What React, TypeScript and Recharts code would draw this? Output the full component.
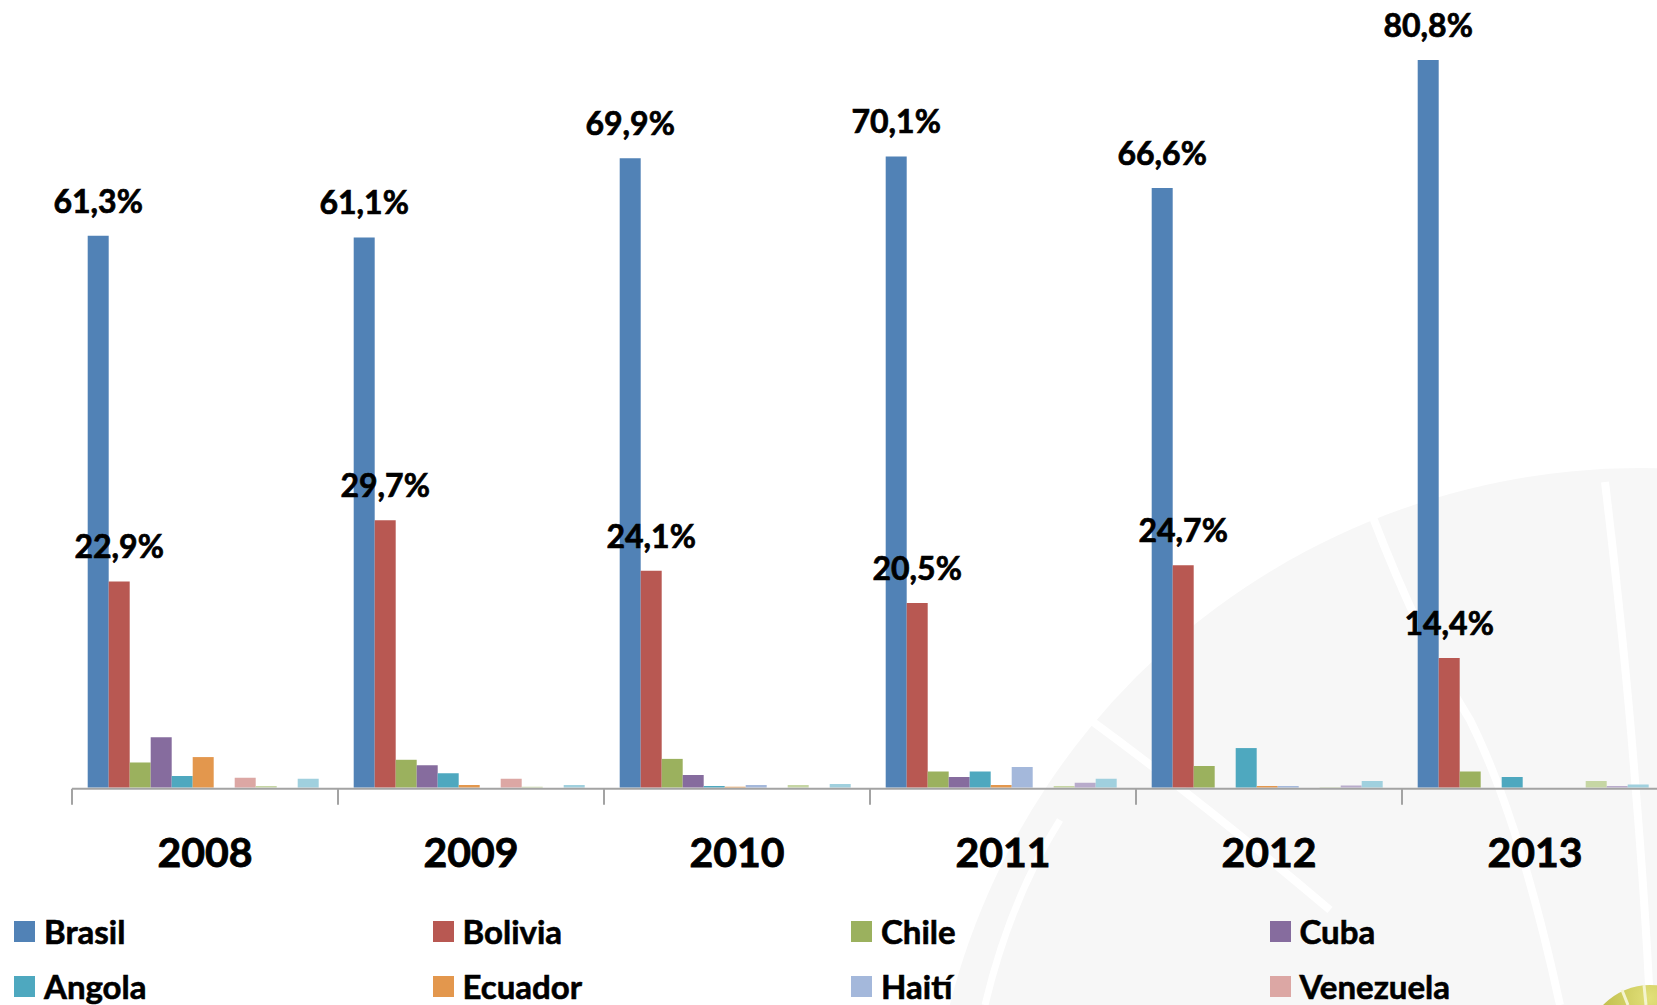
import { Bar, BarChart, LabelList, Legend, XAxis, YAxis } from "recharts";

const years = ["2008", "2009", "2010", "2011", "2012", "2013"];

const brasil = [61.3, 61.1, 69.9, 70.1, 66.6, 80.8];
const bolivia = [22.9, 29.7, 24.1, 20.5, 24.7, 14.4];
const chile = [2.8, 3.1, 3.2, 1.8, 2.4, 1.8];
const cuba = [5.6, 2.5, 1.4, 1.2, 0, 0];
const angola = [1.3, 1.6, 0.2, 1.8, 4.4, 1.2];
const ecuador = [3.4, 0.3, 0.1, 0.3, 0.2, 0];
const haiti = [0, 0, 0.3, 2.3, 0.2, 0];
const venezuela = [1.1, 1.0, 0, 0, 0, 0];
const paraguay = [0.2, 0.1, 0.3, 0.2, 0.05, 0.75];
const peru = [0, 0, 0, 0.55, 0.25, 0.2];
const otros = [1.0, 0.3, 0.4, 1.0, 0.75, 0.35];

const series = [
  { key: "brasil", name: "Brasil", color: "#5182B6", values: brasil, labels: true },
  { key: "bolivia", name: "Bolivia", color: "#B85852", values: bolivia, labels: true },
  { key: "chile", name: "Chile", color: "#9BB15E", values: chile },
  { key: "cuba", name: "Cuba", color: "#866C9E", values: cuba },
  { key: "angola", name: "Angola", color: "#4EA8BF", values: angola },
  { key: "ecuador", name: "Ecuador", color: "#E3974D", values: ecuador },
  { key: "haiti", name: "Haití", color: "#A4B8DB", values: haiti },
  { key: "venezuela", name: "Venezuela", color: "#DCA7A4", values: venezuela },
  { key: "paraguay", name: "Paraguay", color: "#C6D6A4", values: paraguay },
  { key: "peru", name: "Perú", color: "#B8ABCB", values: peru },
  { key: "otros", name: "Otros", color: "#A0D0DE", values: otros },
];

const data = years.map((year, i) => {
  const row: Record<string, string | number> = { year };
  series.forEach((s) => (row[s.key] = s.values[i]));
  return row;
});

const FONT = "Lato, 'Open Sans', sans-serif";
// half of one category band (plot width 1596 / 6 / 2): shifts the tick axis onto band edges
const HALF_BAND = 133;

function pct(v: unknown) {
  return `${Number(v).toFixed(1).replace(".", ",")}%`;
}

function YearTick(props: any) {
  const { x, y, payload } = props;
  return (
    <text
      x={x}
      y={y + 79}
      textAnchor="middle"
      fill="#000"
      stroke="#000"
      strokeWidth={0.8}
      fontFamily={FONT}
      fontWeight={700}
      fontSize={41}
    >
      {payload.value}
    </text>
  );
}

function NoLabel() {
  return <g />;
}

function LegendGrid(props: any) {
  const order = series.map((s) => s.name);
  const items = [...(props.payload || [])].sort(
    (a: any, b: any) => order.indexOf(a.value) - order.indexOf(b.value)
  );
  return (
    <div style={{ display: "grid", gridTemplateColumns: "repeat(4, 418.5px)", gridAutoRows: "55px" }}>
      {items.map((it: any) => (
        <div key={it.value} style={{ display: "flex", alignItems: "center" }}>
          <span style={{ width: 21, height: 21, background: it.color, marginRight: 9, flex: "none" }} />
          <span
            style={{
              fontFamily: FONT,
              fontWeight: 700,
              fontSize: 33,
              lineHeight: 1,
              color: "#000",
              WebkitTextStroke: "0.6px #000",
            }}
          >
            {it.value}
          </span>
        </div>
      ))}
    </div>
  );
}

function Watermark() {
  return (
    <svg width={1657} height={1005} style={{ position: "absolute", left: 0, top: 0 }}>
      <defs>
        <radialGradient id="logoFill" cx="0.5" cy="0.1" r="0.8">
          <stop offset="0%" stopColor="#e2e07a" />
          <stop offset="100%" stopColor="#9c9a1a" />
        </radialGradient>
      </defs>
      <circle cx={1640} cy={1180} r={712} fill="#f7f7f7" />
      <path d="M1085 716 Q1200 800 1330 910" stroke="#fff" strokeWidth={8} fill="none" />
      <path d="M1372 515 Q1420 640 1470 720 Q1520 820 1560 1005" stroke="#fff" strokeWidth={8} fill="none" />
      <path d="M1605 482 Q1625 650 1635 780 Q1645 900 1650 1005" stroke="#fff" strokeWidth={8} fill="none" />
      <path d="M985 1005 Q1010 900 1060 820" stroke="#fff" strokeWidth={7} fill="none" />
      <circle cx={1650} cy={1050} r={65} fill="url(#logoFill)" />
      <path d="M1622 990 L1628 1005 M1644 985 L1646 1005" stroke="#f4f4d0" strokeWidth={3} />
    </svg>
  );
}

export default function App() {
  return (
    <div style={{ position: "fixed", left: 0, top: 0, width: 1657, height: 1005, overflow: "hidden", background: "#fff" }}>
      <Watermark />
      <div style={{ position: "absolute", left: 0, top: 0 }}>
        <BarChart
          width={1680}
          height={1005}
          data={data}
          margin={{ top: 22.2, right: 12, bottom: 215.3, left: 72 }}
          barCategoryGap={15.7}
          barGap={0}
        >
          <XAxis
            xAxisId="edges"
            dataKey="year"
            height={1}
            interval={0}
            padding={{ left: -HALF_BAND, right: HALF_BAND }}
            tick={<NoLabel />}
            tickSize={16}
            axisLine={{ stroke: "#a3a3a3", strokeWidth: 2 }}
            tickLine={{ stroke: "#a3a3a3", strokeWidth: 2 }}
          />
          <XAxis
            xAxisId="cat"
            dataKey="year"
            height={1}
            axisLine={false}
            tickLine={false}
            tickSize={0}
            tickMargin={0}
            interval={0}
            tick={<YearTick />}
          />
          <YAxis hide domain={[0, 85]} allowDataOverflow />
          <Legend
            layout="horizontal"
            verticalAlign="middle"
            align="center"
            content={<LegendGrid />}
            wrapperStyle={{ left: 14, top: 903.5, width: 1680 }}
          />
          {series.map((s) => (
            <Bar
              key={s.key}
              xAxisId="cat"
              dataKey={s.key}
              name={s.name}
              fill={s.color}
              isAnimationActive={false}
            >
              {s.labels && (
                <LabelList
                  dataKey={s.key}
                  position="top"
                  offset={23}
                  formatter={pct}
                  fill="#000"
                  stroke="#000"
                  strokeWidth={0.7}
                  fontFamily={FONT}
                  fontWeight={700}
                  fontSize={32}
                />
              )}
            </Bar>
          ))}
        </BarChart>
      </div>
    </div>
  );
}
